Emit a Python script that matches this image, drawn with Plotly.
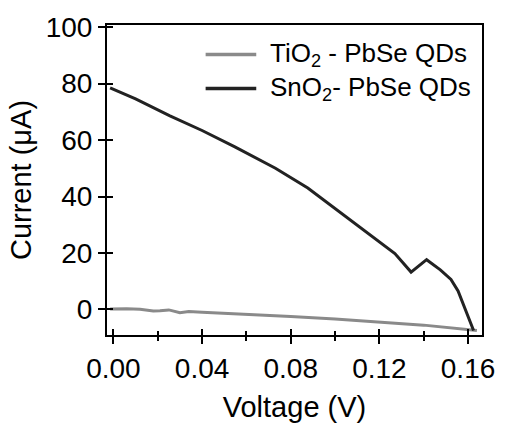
import plotly.graph_objects as go

# J-V data (voltage in V, current in µA)
sno2_v = [-0.0015, 0.010, 0.0255, 0.040, 0.0548, 0.0731, 0.0877, 0.1024, 0.117,
          0.1270, 0.1343, 0.1413, 0.1475, 0.1523, 0.1555, 0.1596, 0.1625]
sno2_i = [78.5, 74.6, 68.6, 63.4, 57.6, 50.0, 43.0, 34.3, 25.4,
          19.8, 13.2, 17.6, 14.0, 10.6, 6.5, -1.5, -7.5]

tio2_v = [-0.0015, 0.006, 0.012, 0.018, 0.021, 0.025, 0.030, 0.034, 0.040,
          0.060, 0.080, 0.100, 0.120, 0.140, 0.164]
tio2_i = [0.1, 0.2, 0.0, -0.6, -0.5, -0.2, -1.2, -0.8, -1.0,
          -1.7, -2.5, -3.4, -4.4, -5.6, -7.5]

x_ticks = [0.00, 0.04, 0.08, 0.12, 0.16]
x_tick_text = ["0.00", "0.04", "0.08", "0.12", "0.16"]
y_ticks = [0, 20, 40, 60, 80, 100]

legend_labels = ["TiO<sub>2</sub> - PbSe QDs", "SnO<sub>2</sub>- PbSe QDs"]
colors = ["#8a8a8a", "#222222"]

x_range = [-0.0029, 0.1663]
y_range = [-9.1, 100.8]
FONT = "Liberation Sans, Arial, sans-serif"

fig = go.Figure()
fig.add_trace(go.Scatter(x=tio2_v, y=tio2_i, mode="lines",
                         line=dict(color=colors[0], width=3), showlegend=False))
fig.add_trace(go.Scatter(x=sno2_v, y=sno2_i, mode="lines",
                         line=dict(color=colors[1], width=3), showlegend=False))
# invisible trace to bind the overlay axes
fig.add_trace(go.Scatter(x=[None], y=[None], xaxis="x2", yaxis="y2", showlegend=False))

axis_common = dict(showgrid=False, zeroline=False, linecolor="black", linewidth=2,
                   tickcolor="black", tickwidth=2)

fig.update_layout(
    width=507, height=430,
    margin=dict(l=107, r=15, t=23, b=92),
    plot_bgcolor="white", paper_bgcolor="white",
    font=dict(family=FONT, size=28, color="black"),
    xaxis=dict(range=x_range, tickvals=x_ticks, ticktext=x_tick_text,
               ticks="outside", ticklen=7, showline=True, mirror=True,
               minor=dict(dtick=0.02, tick0=0, ticks="outside", ticklen=4,
                          tickwidth=2, tickcolor="black"),
               title=dict(text="Voltage (V)", font=dict(size=29), standoff=14),
               **axis_common),
    yaxis=dict(range=y_range, tickvals=y_ticks, ticks="outside", ticklen=7,
               showline=True, mirror=True,
               title=dict(text="Current (\u03bcA)", font=dict(size=29), standoff=6),
               **axis_common),
    # overlay axes carrying the inward half of each tick
    xaxis2=dict(range=x_range, overlaying="x", anchor="y2", side="bottom",
                tickvals=x_ticks, ticks="inside", ticklen=6, showticklabels=False,
                minor=dict(dtick=0.02, tick0=0, ticks="inside", ticklen=4,
                           tickwidth=2, tickcolor="black"),
                showgrid=False, zeroline=False, showline=False,
                tickcolor="black", tickwidth=2),
    yaxis2=dict(range=y_range, overlaying="y", anchor="x2", side="left",
                tickvals=y_ticks, ticks="inside", ticklen=6, showticklabels=False,
                showgrid=False, zeroline=False, showline=False,
                tickcolor="black", tickwidth=2),
)

# legend drawn as line samples + labels
legend_y = [0.905, 0.795]
for label, col, ly in zip(legend_labels, colors, legend_y):
    fig.add_shape(type="line", xref="paper", yref="paper",
                  x0=0.263, x1=0.398, y0=ly, y1=ly,
                  line=dict(color=col, width=3.5))
    fig.add_annotation(xref="paper", yref="paper", x=0.428, y=ly,
                       xanchor="left", yanchor="middle", text=label,
                       showarrow=False, font=dict(family=FONT, size=26, color="black"))

fig.write_html("out.html")
